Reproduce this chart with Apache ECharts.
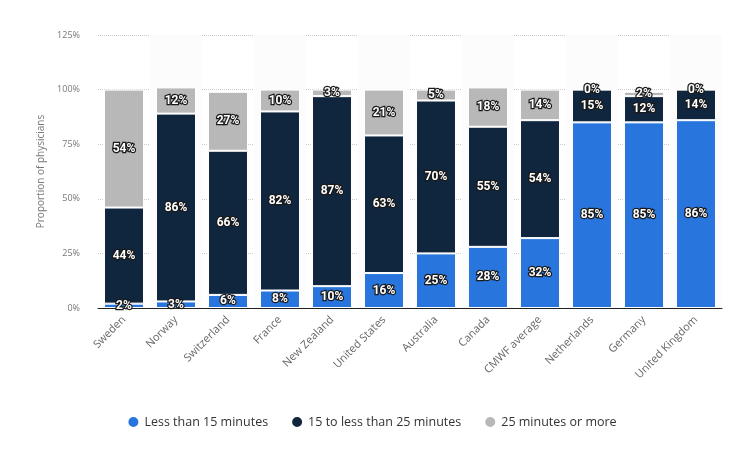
<!DOCTYPE html>
<html>
<head>
<meta charset="utf-8" />
<title>Physician time with patients</title>
<script type="text/javascript" src="https://cdn.jsdelivr.net/npm/echarts@6/dist/echarts.min.js"></script>
<style>
  html, body { margin:0; padding:0; background:#fff; }
  #chart { width:743px; height:456px; }
</style>
</head>
<body>
<div id="chart"></div>
<script type="text/javascript">
var countries = ['Sweden', 'Norway', 'Switzerland', 'France', 'New Zealand', 'United States',
  'Australia', 'Canada', 'CMWF average', 'Netherlands', 'Germany', 'United Kingdom'];
var lessThan15 = [2, 3, 6, 8, 10, 16, 25, 28, 32, 85, 85, 86];
var from15to25 = [44, 86, 66, 82, 87, 63, 70, 55, 54, 15, 12, 14];
var over25 = [54, 12, 27, 10, 3, 21, 5, 18, 14, 0, 2, 0];
var yTicks = [0, 25, 50, 75, 100, 125];

var chart = echarts.init(document.getElementById('chart'));

// white bold labels with a dark outline, like the original
var lbl = {
  show: true,
  position: 'inside',
  formatter: '{c}%',
  color: '#fff',
  fontSize: 12,
  fontWeight: 'bold',
  fontFamily: 'Roboto',
  textBorderColor: '#1a1a1a',
  textBorderWidth: 2.5
};

function makeSeries(name, data, color) {
  return {
    name: name,
    type: 'bar',
    stack: 'all',
    data: data,
    barWidth: 40,
    itemStyle: { color: color, borderColor: '#fff', borderWidth: 1 },
    label: lbl
  };
}

chart.setOption({
  animation: false,
  textStyle: { fontFamily: 'Open Sans' },
  grid: { left: 98, right: 21, top: 35, bottom: 148 },
  legend: {
    bottom: 22,
    left: 'center',
    icon: 'circle',
    itemWidth: 12,
    itemHeight: 12,
    itemGap: 22,
    textStyle: { color: '#333', fontSize: 12.5 },
    data: ['Less than 15 minutes', '15 to less than 25 minutes', '25 minutes or more']
  },
  xAxis: {
    type: 'category',
    data: countries,
    axisLine: { lineStyle: { color: '#222', width: 1 } },
    axisTick: { show: false },
    axisLabel: { rotate: 45, color: '#666', fontSize: 11, margin: 10, interval: 0 },
    splitArea: { show: true, areaStyle: { color: ['rgba(255,255,255,0)', '#fcfcfc'] } }
  },
  yAxis: {
    type: 'value',
    min: yTicks[0],
    max: yTicks[yTicks.length - 1],
    interval: 25,
    name: 'Proportion of physicians',
    nameLocation: 'middle',
    nameGap: 52,
    nameTextStyle: { color: '#777', fontSize: 10 },
    axisLine: { show: false },
    axisTick: { show: false },
    axisLabel: { formatter: '{value}%', color: '#777', fontSize: 9, margin: 18 },
    splitLine: { lineStyle: { color: '#ccc', type: 'dotted' } }
  },
  series: [
    makeSeries('Less than 15 minutes', lessThan15, '#2876dd'),
    makeSeries('15 to less than 25 minutes', from15to25, '#10263f'),
    makeSeries('25 minutes or more', over25, '#b8b8b8')
  ]
});
</script>
</body>
</html>
